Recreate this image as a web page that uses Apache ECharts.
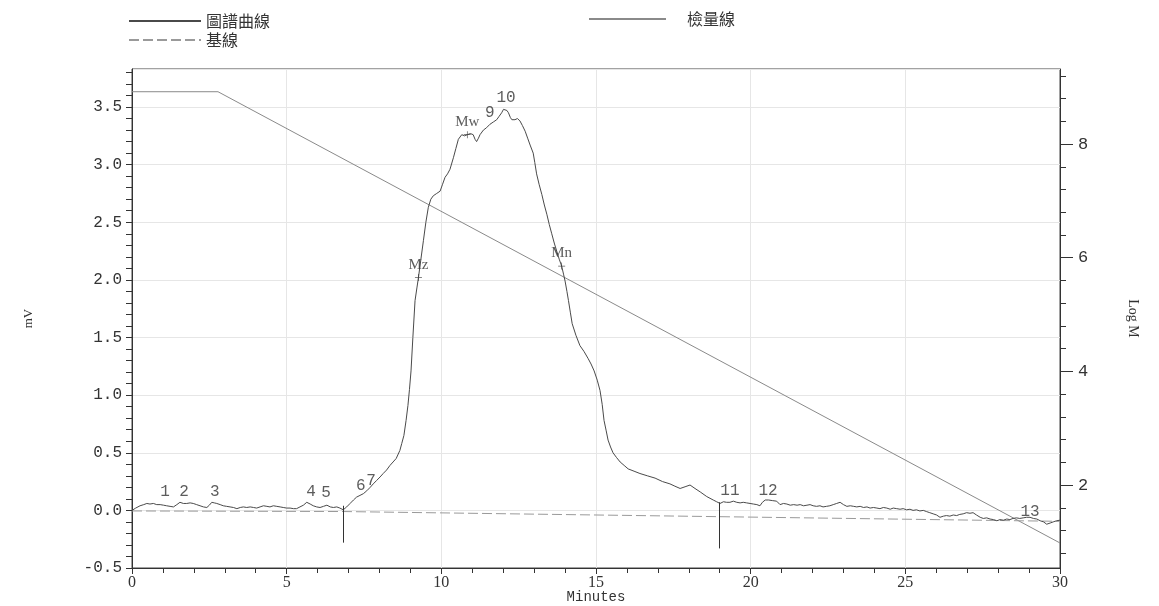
<!DOCTYPE html>
<html>
<head>
<meta charset="utf-8">
<script src="https://cdn.jsdelivr.net/npm/echarts@6/dist/echarts.min.js"></script>
<style>
html,body{margin:0;padding:0;background:#fff;}
#chart{width:1159px;height:606px;}
</style>
</head>
<body>
<div id="chart"></div>
<script>
// chromatogram trace (minutes, mV)
var curveTime = [0.00,0.12,0.26,0.38,0.48,0.58,0.69,0.80,0.91,1.02,1.12,1.23,1.34,1.45,1.55,1.66,1.77,1.88,1.98,2.09,
  2.20,2.31,2.42,2.50,2.58,2.66,2.74,2.85,2.95,3.06,3.17,3.28,3.39,3.50,3.60,3.71,3.82,3.93,4.03,4.14,
  4.25,4.36,4.46,4.57,4.68,4.79,4.89,5.00,5.11,5.22,5.32,5.43,5.54,5.65,5.76,5.86,5.97,6.08,6.19,6.30,
  6.41,6.51,6.62,6.72,6.83,6.94,7.05,7.16,7.26,7.37,7.48,7.59,7.70,7.80,7.91,8.02,8.12,8.23,8.34,8.44,
  8.54,8.66,8.72,8.79,8.86,8.92,8.97,9.02,9.08,9.15,9.21,9.26,9.34,9.42,9.50,9.58,9.66,9.74,9.85,9.96,
  10.04,10.12,10.20,10.28,10.39,10.47,10.55,10.66,10.75,10.84,10.94,11.03,11.09,11.14,11.20,11.25,11.36,11.46,11.57,11.68,
  11.79,11.87,11.95,12.01,12.06,12.12,12.17,12.23,12.28,12.38,12.46,12.54,12.62,12.71,12.79,12.87,12.97,13.02,13.08,13.16,
  13.25,13.33,13.41,13.49,13.57,13.65,13.73,13.81,13.89,13.95,14.00,14.06,14.11,14.17,14.23,14.35,14.48,14.61,14.74,14.84,
  14.94,15.04,15.13,15.20,15.26,15.33,15.39,15.47,15.55,15.66,15.78,15.91,16.04,16.23,16.42,16.66,16.91,17.15,17.39,17.55,
  17.72,17.88,18.04,18.20,18.37,18.58,18.79,18.90,19.01,19.12,19.22,19.33,19.44,19.55,19.66,19.76,19.87,19.98,20.09,20.20,
  20.30,20.38,20.47,20.58,20.70,20.84,20.95,21.06,21.17,21.28,21.39,21.50,21.60,21.71,21.82,21.92,22.02,22.13,22.24,22.34,
  22.45,22.56,22.67,22.78,22.89,23.00,23.11,23.22,23.33,23.43,23.54,23.65,23.76,23.86,23.97,24.08,24.18,24.29,24.40,24.51,
  24.61,24.72,24.83,24.93,25.04,25.15,25.25,25.36,25.47,25.58,25.68,25.79,25.90,26.01,26.12,26.23,26.33,26.44,26.55,26.66,
  26.76,26.87,26.98,27.09,27.19,27.30,27.42,27.52,27.63,27.74,27.85,27.96,28.06,28.17,28.28,28.38,28.48,28.59,28.70,28.81,
  28.92,29.03,29.14,29.25,29.36,29.47,29.57,29.68,29.78,29.89,30.00];
var curveMv = [0.00,0.02,0.04,0.05,0.06,0.055,0.06,0.05,0.05,0.045,0.04,0.035,0.03,0.05,0.07,0.06,0.06,0.065,0.06,0.05,
  0.04,0.03,0.025,0.045,0.07,0.065,0.06,0.05,0.04,0.035,0.03,0.025,0.015,0.025,0.03,0.025,0.03,0.025,0.02,0.03,
  0.04,0.035,0.03,0.04,0.035,0.03,0.025,0.02,0.02,0.015,0.015,0.03,0.045,0.07,0.055,0.04,0.03,0.025,0.035,0.045,
  0.03,0.025,0.03,0.02,0.005,0.03,0.06,0.09,0.115,0.13,0.145,0.17,0.20,0.23,0.26,0.29,0.32,0.35,0.39,0.42,
  0.45,0.52,0.58,0.65,0.78,0.91,1.05,1.21,1.50,1.82,1.93,2.02,2.18,2.34,2.50,2.63,2.70,2.73,2.75,2.77,
  2.83,2.89,2.92,2.96,3.06,3.14,3.22,3.26,3.25,3.26,3.27,3.26,3.22,3.20,3.23,3.26,3.30,3.32,3.35,3.37,
  3.39,3.42,3.45,3.48,3.49,3.47,3.45,3.41,3.39,3.39,3.40,3.38,3.34,3.29,3.23,3.17,3.10,3.02,2.92,2.83,
  2.74,2.65,2.57,2.48,2.40,2.32,2.25,2.18,2.12,2.05,1.99,1.90,1.82,1.72,1.62,1.52,1.43,1.38,1.32,1.27,
  1.21,1.13,1.04,0.92,0.78,0.69,0.61,0.55,0.50,0.46,0.42,0.39,0.36,0.34,0.32,0.30,0.28,0.25,0.23,0.21,
  0.19,0.205,0.22,0.19,0.16,0.12,0.09,0.075,0.06,0.075,0.07,0.07,0.08,0.07,0.065,0.07,0.065,0.06,0.055,0.05,
  0.04,0.07,0.09,0.09,0.085,0.08,0.05,0.06,0.055,0.045,0.05,0.045,0.05,0.04,0.045,0.05,0.04,0.035,0.04,0.03,
  0.035,0.04,0.05,0.06,0.07,0.05,0.035,0.04,0.035,0.03,0.035,0.025,0.03,0.02,0.025,0.02,0.015,0.025,0.02,0.01,
  0.02,0.015,0.01,0.015,0.005,0.01,0.0,0.005,-0.005,0.0,-0.01,-0.02,-0.03,-0.04,-0.06,-0.05,-0.045,-0.05,-0.04,-0.045,
  -0.035,-0.03,-0.02,-0.025,-0.02,-0.04,-0.06,-0.07,-0.065,-0.075,-0.08,-0.09,-0.08,-0.085,-0.075,-0.08,-0.07,-0.065,-0.07,-0.065,
  -0.06,-0.06,-0.07,-0.075,-0.09,-0.10,-0.12,-0.11,-0.10,-0.09,-0.085];

// baseline (minutes, mV)
var baseTime = [0, 6.82, 30];
var baseMv = [-0.005, -0.01, -0.095];

// calibration line (minutes, Log M)
var calTime = [0, 2.78, 30];
var calLogM = [8.92, 8.92, 0.98];

// integration drop lines
var dropTime = [6.82, 19.0];
var dropTop = [0.04, 0.07];
var dropBottom = [-0.28, -0.33];

// peak numbers
var peakTime = [1.07, 1.68, 2.68, 5.79, 6.27, 7.40, 7.73, 11.57, 12.09, 19.33, 20.56, 29.03];
var peakMv = [0.16, 0.16, 0.16, 0.16, 0.15, 0.21, 0.26, 3.45, 3.58, 0.17, 0.17, -0.01];
var peakText = ['1', '2', '3', '4', '5', '6', '7', '9', '10', '11', '12', '13'];

// molecular weight averages
var avgTime = [9.26, 10.84, 13.89];
var avgMv = [2.02, 3.26, 2.12];
var avgText = ['Mz', 'Mw', 'Mn'];

// axis ticks
var mvLabels = [-0.5, 0, 0.5, 1, 1.5, 2, 2.5, 3, 3.5];
var logLabels = [2, 4, 6, 8];
var mvTicks = [];
for (var i = -5; i <= 38; i++) mvTicks.push(i / 10);
var logTicks = [];
for (var k = 2; k <= 23; k++) logTicks.push(+(k * 0.4).toFixed(1));

function pairs(a, b) {
  return a.map(function (v, i) { return [v, b[i]]; });
}

var myChart = echarts.init(document.getElementById('chart'));

var legendText = { fontFamily: 'Noto Sans CJK TC', fontSize: 16, color: '#333' };
var legendCommon = { padding: 0, itemHeight: 14, itemGap: 0, itemStyle: { opacity: 0 }, selectedMode: false };

var option = {
  animation: false,
  backgroundColor: '#fff',
  // x axis title, placed under the tick labels
  title: {
    text: 'Minutes', left: 596, top: 590, textAlign: 'center', padding: 0,
    textStyle: { fontFamily: 'Liberation Mono', fontSize: 14, fontWeight: 'normal', color: '#333' }
  },
  legend: [
    echarts.util.merge({ data: ['圖譜曲線'], left: 128, top: 13, itemWidth: 72, textStyle: legendText }, legendCommon),
    echarts.util.merge({ data: ['基線'], left: 128, top: 32, itemWidth: 72, textStyle: legendText }, legendCommon),
    echarts.util.merge({ data: ['檢量線'], left: 588, top: 11, itemWidth: 77,
      textStyle: { fontFamily: 'Noto Sans CJK TC', fontSize: 16, color: '#333', padding: [0, 0, 0, 16] } }, legendCommon)
  ],
  grid: { left: 132, right: 99, top: 69, bottom: 38, outerBoundsMode: 'none', containLabel: false,
    show: true, borderColor: '#444', borderWidth: 1 },
  xAxis: {
    type: 'value', min: 0, max: 30, interval: 5,
    axisLine: { onZero: false, lineStyle: { color: '#333' } },
    axisTick: { length: 6, lineStyle: { color: '#333' } },
    minorTick: { show: true, splitNumber: 5, length: 5, lineStyle: { color: '#333' } },
    splitLine: { show: true, lineStyle: { color: '#e6e6e6' } },
    axisLabel: { fontFamily: 'Liberation Serif', fontSize: 16, color: '#333', margin: 7 }
  },
  yAxis: [
    {
      type: 'value', position: 'left', min: -0.5, max: 3.83,
      name: 'mV', nameLocation: 'middle', nameGap: 97, nameRotate: 90,
      nameTextStyle: { fontFamily: 'Liberation Serif', fontSize: 13, color: '#333' },
      axisLine: { show: true, onZero: false, lineStyle: { color: '#333' } },
      axisTick: { show: true, customValues: mvTicks, length: 6, lineStyle: { color: '#333' } },
      axisLabel: { customValues: mvLabels, formatter: function (v) { return v.toFixed(1); },
        fontFamily: 'Liberation Mono', fontSize: 16, color: '#333', margin: 10 },
      splitLine: { show: false }
    },
    {
      type: 'value', position: 'right', min: 0.54, max: 9.32,
      name: 'Log M', nameLocation: 'middle', nameGap: 66, nameRotate: -90,
      nameTextStyle: { fontFamily: 'Liberation Serif', fontSize: 14, color: '#333' },
      axisLine: { show: true, onZero: false, lineStyle: { color: '#333' } },
      axisTick: { show: true, customValues: logTicks, length: 6, lineStyle: { color: '#333' } },
      axisLabel: { customValues: logLabels, fontFamily: 'Liberation Mono', fontSize: 17, color: '#333', margin: 18 },
      splitLine: { show: false }
    },
    {
      type: 'value', position: 'left', min: -0.5, max: 3.83, interval: 0.5,
      axisLine: { show: false }, axisTick: { show: false }, axisLabel: { show: false },
      splitLine: { show: true, lineStyle: { color: '#e6e6e6' } }
    },
    {
      type: 'value', position: 'right', min: 0.54, max: 9.32,
      axisLine: { show: false },
      axisTick: { show: true, customValues: logLabels, length: 13, lineStyle: { color: '#333' } },
      axisLabel: { show: false }, splitLine: { show: false }
    }
  ],
  series: [
    {
      name: '檢量線', type: 'line', yAxisIndex: 1, symbol: 'none', silent: true,
      itemStyle: { color: '#8a8a8a' },
      lineStyle: { color: '#8a8a8a', width: 1 },
      data: pairs(calTime, calLogM), z: 2
    },
    {
      name: '基線', type: 'line', yAxisIndex: 0, symbol: 'none', silent: true,
      itemStyle: { color: '#9a9a9a' },
      lineStyle: { color: '#9a9a9a', width: 1, type: [10, 4] },
      data: pairs(baseTime, baseMv), z: 2
    },
    {
      name: '圖譜曲線', type: 'line', yAxisIndex: 0, symbol: 'none', silent: true,
      itemStyle: { color: '#4a4a4a' },
      lineStyle: { color: '#4a4a4a', width: 1 },
      data: pairs(curveTime, curveMv), z: 4,
      markLine: {
        silent: true, symbol: ['none', 'none'], label: { show: false },
        lineStyle: { color: '#333', type: 'solid', width: 1 },
        data: dropTime.map(function (t, i) {
          return [{ coord: [t, dropTop[i]] }, { coord: [t, dropBottom[i]] }];
        })
      }
    },
    {
      name: 'peaks', type: 'scatter', yAxisIndex: 0, symbolSize: 1, silent: true,
      itemStyle: { color: 'transparent' },
      label: { show: true, position: 'inside', formatter: '{b}',
        fontFamily: 'Liberation Mono', fontSize: 16, color: '#333' },
      data: peakTime.map(function (t, i) { return { name: peakText[i], value: [t, peakMv[i]] }; }),
      z: 5
    },
    {
      name: 'averages', type: 'scatter', yAxisIndex: 0, silent: true,
      symbol: 'path://M0,4.5h10v1h-10zM4.5,0h1v10h-1z', symbolSize: 7,
      itemStyle: { color: '#333' },
      label: { show: true, position: 'top', distance: 2, formatter: '{b}',
        fontFamily: 'Liberation Serif', fontSize: 15, color: '#333' },
      data: avgTime.map(function (t, i) { return { name: avgText[i], value: [t, avgMv[i]] }; }),
      z: 5
    }
  ]
};

myChart.setOption(option);
</script>
</body>
</html>
